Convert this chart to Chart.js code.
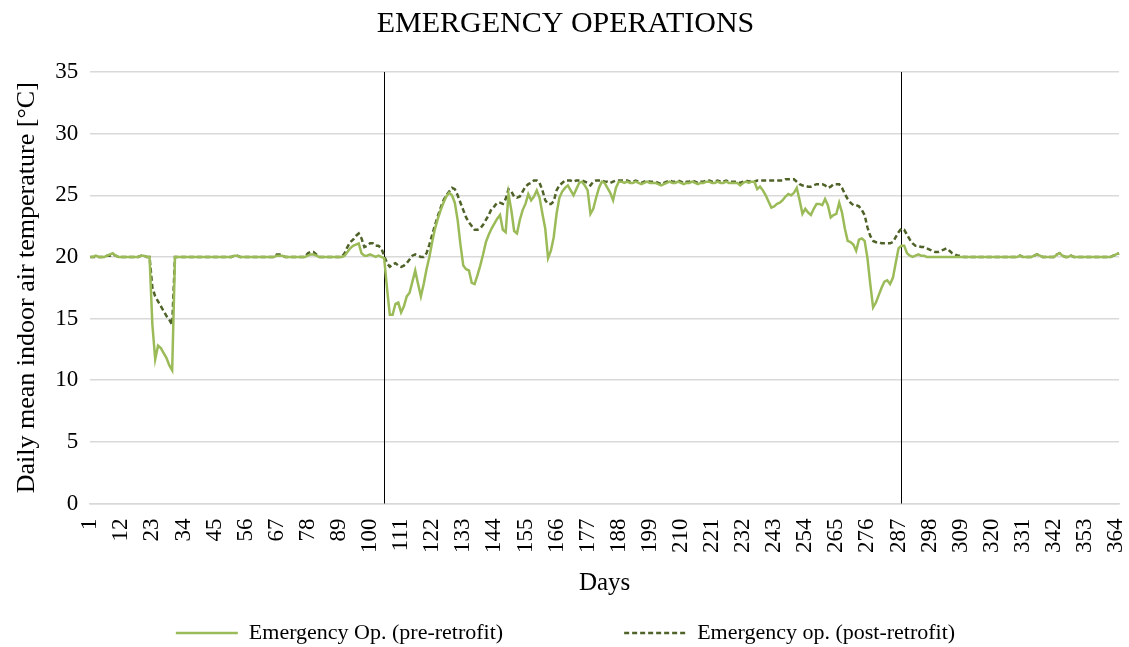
<!DOCTYPE html>
<html>
<head>
<meta charset="utf-8">
<script src="https://cdn.jsdelivr.net/npm/chart.js@4/dist/chart.umd.min.js"></script>
<style>
  body { margin: 0; background: #fff; }
</style>
</head>
<body>
<canvas id="chart" width="1129" height="647"></canvas>
<script>
// daily mean indoor air temperature, days 1..365
let preRetrofit = [
  20.0,20.0,20.1,20.0,20.0,20.0,20.1,20.2,20.3,20.1,
  20.0,20.0,20.0,20.0,20.0,20.0,20.0,20.0,20.1,20.1,
  20.0,20.0,14.5,11.7,12.8,12.6,12.2,11.8,11.2,10.8,
  20.0,20.0,20.0,20.0,20.0,20.0,20.0,20.0,20.0,20.0,
  20.0,20.0,20.0,20.0,20.0,20.0,20.0,20.0,20.0,20.0,
  20.0,20.1,20.1,20.0,20.0,20.0,20.0,20.0,20.0,20.0,
  20.0,20.0,20.0,20.0,20.0,20.0,20.1,20.1,20.1,20.0,
  20.0,20.0,20.0,20.0,20.0,20.0,20.0,20.1,20.2,20.2,
  20.1,20.0,20.0,20.0,20.0,20.0,20.0,20.0,20.0,20.0,
  20.1,20.4,20.7,20.9,21.0,21.1,20.3,20.1,20.1,20.2,
  20.1,20.0,20.1,20.0,19.9,17.5,15.3,15.3,16.2,16.3,
  15.5,16.0,16.8,17.1,18.0,18.9,17.8,16.8,17.8,19.0,
  20.0,21.2,22.3,23.1,23.8,24.4,24.9,25.2,25.0,24.4,
  23.0,21.0,19.3,19.0,18.9,17.9,17.8,18.5,19.3,20.2,
  21.2,21.8,22.3,22.7,23.1,23.4,22.2,22.0,25.1,23.8,
  22.1,21.9,23.0,23.8,24.3,25.1,24.6,24.9,25.4,24.8,
  23.5,22.3,19.9,20.5,21.6,23.5,24.8,25.3,25.6,25.8,
  25.4,25.0,25.5,26.0,26.1,25.8,25.4,23.5,23.9,24.8,
  25.6,26.1,26.0,25.6,25.2,24.6,25.6,26.1,26.1,26.0,
  26.1,26.0,26.0,26.1,26.0,25.9,26.0,26.1,26.0,26.0,
  26.0,25.9,25.8,25.9,26.0,26.1,26.0,26.0,26.1,26.0,
  25.9,26.0,26.0,26.1,26.0,25.9,26.0,26.0,26.1,26.1,
  26.0,26.0,26.1,26.0,26.0,26.1,26.0,26.0,26.0,26.0,
  25.8,26.0,26.1,26.0,26.1,26.1,25.5,25.7,25.4,25.0,
  24.5,24.0,24.1,24.3,24.4,24.6,24.9,25.1,25.0,25.2,
  25.6,24.6,23.5,23.9,23.6,23.4,23.9,24.3,24.3,24.2,
  24.7,24.2,23.2,23.4,23.5,24.4,23.6,22.3,21.3,21.2,
  21.0,20.5,21.4,21.5,21.3,19.9,17.8,15.9,16.3,16.9,
  17.5,18.0,18.1,17.8,18.3,19.5,20.7,20.9,20.9,20.3,
  20.1,20.0,20.1,20.2,20.1,20.1,20.0,20.0,20.0,20.0,
  20.0,20.0,20.0,20.0,20.0,20.0,20.0,20.0,20.0,20.0,
  20.0,20.0,20.0,20.0,20.0,20.0,20.0,20.0,20.0,20.0,
  20.0,20.0,20.0,20.0,20.0,20.0,20.0,20.0,20.0,20.1,
  20.0,20.0,20.0,20.0,20.1,20.2,20.1,20.0,20.0,20.0,
  20.0,20.0,20.2,20.3,20.1,20.0,20.0,20.1,20.0,20.0,
  20.0,20.0,20.0,20.0,20.0,20.0,20.0,20.0,20.0,20.0,
  20.0,20.0,20.1,20.2,20.3
];

let postRetrofit = [
  20.0,20.0,20.0,20.0,20.0,20.0,20.1,20.1,20.2,20.1,
  20.0,20.0,20.0,20.0,20.0,20.0,20.0,20.0,20.1,20.1,
  20.0,20.0,17.5,16.8,16.4,16.0,15.6,15.2,14.9,14.5,
  20.0,20.0,20.0,20.0,20.0,20.0,20.0,20.0,20.0,20.0,
  20.0,20.0,20.0,20.0,20.0,20.0,20.0,20.0,20.0,20.0,
  20.0,20.1,20.1,20.0,20.0,20.0,20.0,20.0,20.0,20.0,
  20.0,20.0,20.0,20.0,20.0,20.0,20.2,20.2,20.1,20.0,
  20.0,20.0,20.0,20.0,20.0,20.0,20.0,20.3,20.4,20.4,
  20.2,20.0,20.0,20.0,20.0,20.0,20.0,20.0,20.0,20.0,
  20.3,20.8,21.2,21.4,21.7,21.9,21.5,20.8,20.9,21.1,
  21.1,20.9,20.9,20.7,20.1,19.5,19.2,19.4,19.5,19.3,
  19.2,19.3,19.5,19.8,20.1,20.2,20.1,20.0,20.0,20.3,
  21.0,21.8,22.6,23.3,24.0,24.6,25.0,25.3,25.6,25.5,
  25.0,24.4,23.8,23.2,22.8,22.5,22.2,22.2,22.3,22.6,
  23.0,23.4,23.9,24.1,24.4,24.4,24.3,24.7,25.5,25.3,
  24.9,24.8,24.9,25.3,25.7,25.9,26.0,26.2,26.2,26.0,
  25.4,24.6,24.3,24.3,24.5,25.4,25.8,26.0,26.2,26.2,
  26.2,26.1,26.2,26.2,26.2,26.1,26.0,25.8,26.1,26.2,
  26.2,26.2,26.1,26.1,26.0,26.1,26.2,26.2,26.2,26.2,
  26.2,26.1,26.1,26.2,26.1,26.0,26.1,26.2,26.1,26.1,
  26.1,26.0,25.9,26.0,26.1,26.2,26.1,26.1,26.2,26.1,
  26.0,26.1,26.1,26.2,26.1,26.0,26.1,26.1,26.2,26.2,
  26.1,26.1,26.2,26.1,26.1,26.2,26.1,26.1,26.1,26.1,
  26.0,26.1,26.2,26.1,26.2,26.1,26.2,26.2,26.2,26.2,
  26.2,26.2,26.2,26.2,26.2,26.2,26.3,26.3,26.3,26.3,
  26.1,25.9,25.8,25.8,25.7,25.7,25.8,25.9,25.9,25.9,
  25.8,25.6,25.7,25.9,25.9,25.9,25.6,25.1,24.7,24.4,
  24.2,24.2,24.1,23.8,23.4,22.4,21.7,21.3,21.2,21.2,
  21.1,21.1,21.1,21.1,21.2,21.6,22.0,22.3,22.2,21.8,
  21.4,21.1,20.9,20.9,20.8,20.8,20.7,20.6,20.5,20.4,
  20.4,20.5,20.6,20.7,20.5,20.3,20.2,20.1,20.1,20.0,
  20.0,20.0,20.0,20.0,20.0,20.0,20.0,20.0,20.0,20.0,
  20.0,20.0,20.0,20.0,20.0,20.0,20.0,20.0,20.0,20.1,
  20.0,20.0,20.0,20.0,20.1,20.2,20.1,20.0,20.0,20.0,
  20.0,20.0,20.2,20.3,20.1,20.0,20.0,20.1,20.0,20.0,
  20.0,20.0,20.0,20.0,20.0,20.0,20.0,20.0,20.0,20.0,
  20.0,20.0,20.1,20.2,20.3
];

// start / end of the heating season (vertical lines)
let seasonDays = [105, 288];

let dayLabels = [];
for (let i = 1; i <= preRetrofit.length; i++) {
  dayLabels.push(String(i));
}
let labelStep = 11;

let serif = 'Liberation Serif, Times New Roman, serif';

let seasonLines = {
  id: 'seasonLines',
  beforeDatasetsDraw: function(chart) {
    let ctx = chart.ctx;
    let area = chart.chartArea;
    let xScale = chart.scales.x;
    ctx.save();
    ctx.strokeStyle = '#000';
    ctx.lineWidth = 1;
    seasonDays.forEach(function(day) {
      let x = Math.round(xScale.getPixelForValue(day - 1)) + 0.5;
      ctx.beginPath();
      ctx.moveTo(x, area.top);
      ctx.lineTo(x, area.bottom);
      ctx.stroke();
    });
    ctx.restore();
  }
};

// legend entries drawn as short lines, with an empty slot between them for the wide gap
let legendLabels = function(chart) {
  let items = chart.data.datasets.map(function(ds, i) {
    return {
      text: ds.label,
      datasetIndex: i,
      fillStyle: ds.borderColor,
      strokeStyle: ds.borderColor,
      lineWidth: ds.borderWidth,
      lineDash: ds.borderDash || [],
      pointStyle: 'line',
      fontColor: '#000',
      hidden: false
    };
  });
  items.splice(1, 0, {
    text: '',
    fillStyle: 'rgba(0,0,0,0)',
    strokeStyle: 'rgba(0,0,0,0)',
    lineWidth: 0,
    pointStyle: 'line',
    fontColor: '#000',
    hidden: false
  });
  return items;
};

new Chart(document.getElementById('chart'), {
  type: 'line',
  data: {
    labels: dayLabels,
    datasets: [{
      label: 'Emergency Op. (pre-retrofit)',
      data: preRetrofit,
      borderColor: '#9BBB59',
      backgroundColor: '#9BBB59',
      borderWidth: 2.5,
      pointRadius: 0,
      fill: false
    }, {
      label: 'Emergency op. (post-retrofit)',
      data: postRetrofit,
      borderColor: '#4F6228',
      backgroundColor: '#4F6228',
      borderWidth: 2.5,
      borderDash: [5, 3],
      pointRadius: 0,
      fill: false
    }]
  },
  options: {
    responsive: false,
    animation: false,
    layout: { padding: { left: 12, right: 10, top: 2, bottom: -7 } },
    plugins: {
      title: {
        display: true,
        text: 'EMERGENCY OPERATIONS',
        color: '#000',
        font: { family: serif, size: 30, weight: 'normal' },
        padding: { top: 4, bottom: 30 }
      },
      legend: {
        position: 'bottom',
        labels: {
          usePointStyle: true,
          pointStyleWidth: 62,
          color: '#000',
          font: { family: serif, size: 22 },
          padding: 24,
          generateLabels: legendLabels
        }
      },
      tooltip: { enabled: false }
    },
    scales: {
      x: {
        offset: false,
        grid: { display: false, drawTicks: false },
        border: { color: '#d9d9d9', width: 1.5 },
        afterFit: function(scale) {
          scale.paddingRight = 0;
        },
        ticks: {
          autoSkip: false,
          maxRotation: 90,
          minRotation: 90,
          padding: 15,
          color: '#000',
          font: { family: serif, size: 23 },
          callback: function(value, index) {
            return index % labelStep === 0 ? this.getLabelForValue(value) : null;
          }
        },
        title: {
          display: true,
          text: 'Days',
          color: '#000',
          font: { family: serif, size: 25 },
          padding: { top: 0, bottom: 0 }
        }
      },
      y: {
        min: 0,
        max: 35,
        grid: { color: '#d9d9d9', lineWidth: 1.5, drawTicks: false },
        border: { display: false },
        ticks: {
          stepSize: 5,
          padding: 12,
          color: '#000',
          font: { family: serif, size: 23 }
        },
        title: {
          display: true,
          text: 'Daily mean indoor air temperature [°C]',
          color: '#000',
          font: { family: serif, size: 26 },
          padding: { top: 0, bottom: 0 }
        }
      }
    }
  },
  plugins: [seasonLines]
});
</script>
</body>
</html>
